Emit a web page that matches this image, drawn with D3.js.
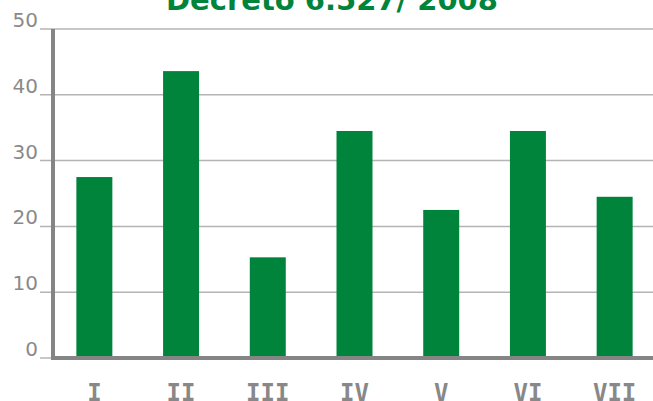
<!DOCTYPE html>
<html>
<head>
<meta charset="utf-8">
<script src="https://cdn.jsdelivr.net/npm/d3@7"></script>
<style>
  body { margin: 0; background: #fff; }
</style>
</head>
<body>
<div class="d3-content"></div>
<script>
const SVG_WIDTH = 653;
const SVG_HEIGHT = 401;

const categories = ['I', 'II', 'III', 'IV', 'V', 'VI', 'VII'];
const values = [27.5, 43.6, 15.3, 34.5, 22.5, 34.5, 24.5];
const yTicks = [0, 10, 20, 30, 40, 50];
const title = 'Decreto 6.527/ 2008';

const GREEN = '#00843c';
const GREY = '#858585';

const svg = d3.select('.d3-content')
  .append('svg')
  .attr('width', SVG_WIDTH)
  .attr('height', SVG_HEIGHT);

const xscale = d3.scaleBand()
  .domain(categories)
  .range([51, 658])
  .paddingInner(0.585)
  .paddingOuter(0.2925);

const yscale = d3.scaleLinear()
  .domain([0, 50])
  .range([358, 29]);

// gridlines
svg.append('g')
  .selectAll('line')
  .data(yTicks.filter(d => d > 0))
  .join('line')
  .attr('x1', 40)
  .attr('x2', SVG_WIDTH)
  .attr('y1', d => yscale(d))
  .attr('y2', d => yscale(d))
  .attr('stroke', '#b4b4b4')
  .attr('stroke-width', 1.5);

// zero tick
svg.append('line')
  .attr('x1', 40).attr('x2', 53)
  .attr('y1', yscale(0)).attr('y2', yscale(0))
  .attr('stroke', '#b4b4b4')
  .attr('stroke-width', 1.5);

// y tick labels
svg.append('g')
  .selectAll('text')
  .data(yTicks)
  .join('text')
  .attr('x', 38)
  .attr('y', d => yscale(d) - 2)
  .attr('text-anchor', 'end')
  .attr('font-family', 'Verdana, "DejaVu Sans", sans-serif')
  .attr('font-size', 20)
  .attr('fill', '#8a8a8a')
  .text(d => d);

// bars
svg.append('g')
  .selectAll('rect')
  .data(values)
  .join('rect')
  .attr('x', (d, i) => xscale(categories[i]))
  .attr('width', xscale.bandwidth())
  .attr('y', d => yscale(d))
  .attr('height', d => yscale(0) - yscale(d))
  .attr('fill', GREEN);

// axis lines
svg.append('line')
  .attr('x1', 53).attr('x2', 53)
  .attr('y1', yscale(50)).attr('y2', yscale(0) + 2)
  .attr('stroke', GREY)
  .attr('stroke-width', 4);

svg.append('line')
  .attr('x1', 51).attr('x2', SVG_WIDTH)
  .attr('y1', yscale(0)).attr('y2', yscale(0))
  .attr('stroke', GREY)
  .attr('stroke-width', 4);

// x labels (cut at the bottom edge, as in the original)
svg.append('g')
  .selectAll('text')
  .data(categories)
  .join('text')
  .attr('x', d => xscale(d) + xscale.bandwidth() / 2)
  .attr('y', 401)
  .attr('text-anchor', 'middle')
  .attr('font-family', '"DejaVu Sans Mono", monospace')
  .attr('font-weight', 'bold')
  .attr('font-size', 24)
  .attr('fill', '#888')
  .text(d => d);

// title (cut off at the top)
svg.append('text')
  .attr('x', 332)
  .attr('y', 10)
  .attr('text-anchor', 'middle')
  .attr('font-family', 'Verdana, "DejaVu Sans", sans-serif')
  .attr('font-weight', 'bold')
  .attr('font-size', 29)
  .attr('fill', GREEN)
  .text(title);
</script>
</body>
</html>
